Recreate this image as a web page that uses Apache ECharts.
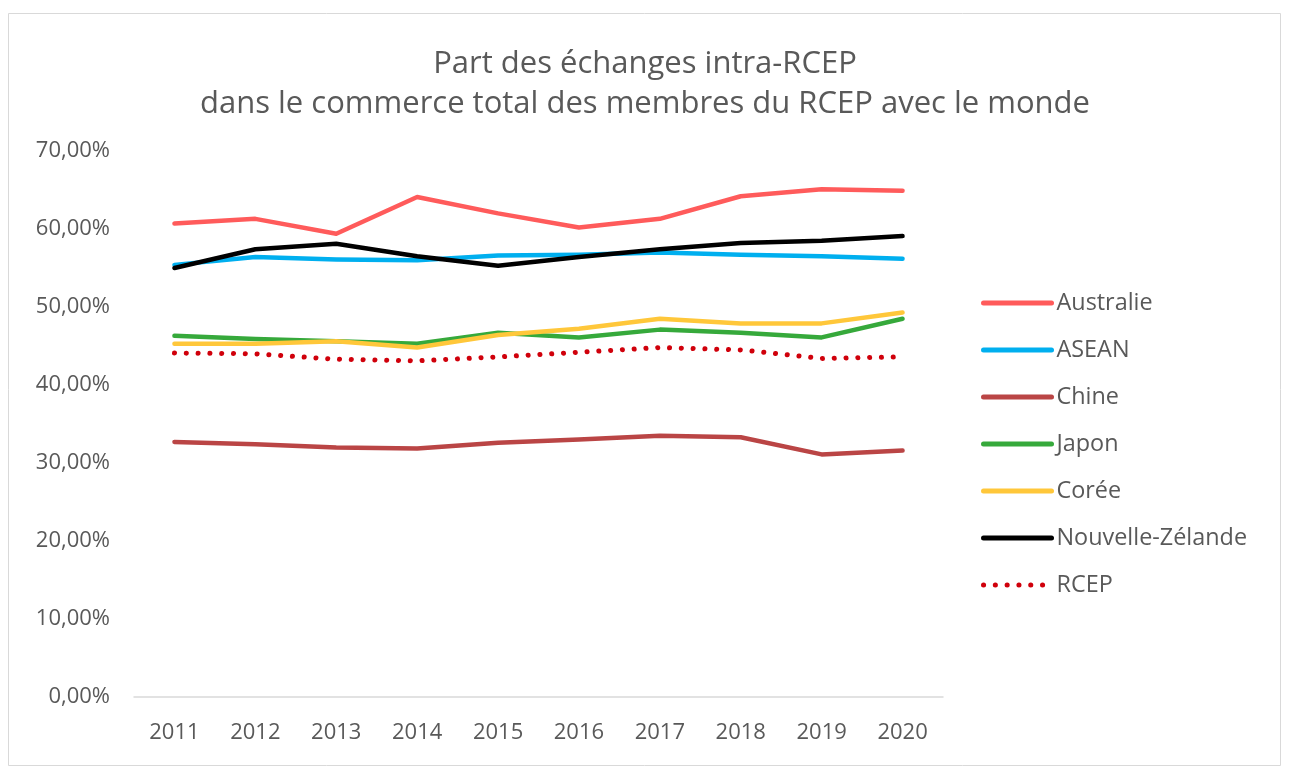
<!DOCTYPE html>
<html>
<head>
<meta charset="utf-8">
<script src="https://cdn.jsdelivr.net/npm/echarts@6/dist/echarts.min.js"></script>
<style>
html,body{margin:0;padding:0;background:#fff;}
#c{width:1290px;height:784px;}
</style>
</head>
<body>
<div id="c"></div>
<script>
const years = ['2011','2012','2013','2014','2015','2016','2017','2018','2019','2020'];
const australie = [60.7, 61.3, 59.4, 64.1, 62.0, 60.2, 61.3, 64.2, 65.1, 64.9];
const asean = [55.4, 56.4, 56.1, 56.0, 56.6, 56.7, 57.0, 56.7, 56.5, 56.2];
const chine = [32.7, 32.4, 32.0, 31.85, 32.6, 33.0, 33.5, 33.3, 31.1, 31.6];
const japon = [46.3, 45.9, 45.6, 45.3, 46.7, 46.1, 47.1, 46.7, 46.1, 48.5];
const coree = [45.3, 45.3, 45.6, 44.8, 46.4, 47.2, 48.5, 47.9, 47.9, 49.3];
const nz = [55.0, 57.4, 58.1, 56.5, 55.3, 56.4, 57.4, 58.2, 58.5, 59.1];
const rcep = [44.1, 44.0, 43.3, 43.1, 43.6, 44.2, 44.8, 44.5, 43.4, 43.6];
const titleText = 'Part des échanges intra-RCEP\ndans le commerce total des membres du RCEP avec le monde';

const FONT = '"Open Sans", "Noto Sans", sans-serif';
const TXT = '#595959';

function mk(name, data, color, dotted) {
  return {
    name: name, type: 'line', data: data, symbol: 'none', smooth: false,
    lineStyle: dotted
      ? {color: color, width: 5, type: [0.1, 11.7], cap: 'round'}
      : {color: color, width: 4.5, cap: 'round', join: 'round'},
    itemStyle: {color: color},
    emphasis: {disabled: true}
  };
}

const chart = echarts.init(document.getElementById('c'), null, {renderer: 'canvas'});
chart.setOption({
  animation: false,
  backgroundColor: '#fff',
  textStyle: {fontFamily: FONT},
  graphic: [{
    type: 'rect', shape: {x: 8.5, y: 13.5, width: 1272, height: 752},
    style: {fill: 'none', stroke: '#d9d9d9', lineWidth: 1}, silent: true
  }],
  title: {
    text: titleText, left: 'center', top: 39,
    textStyle: {fontFamily: FONT, fontSize: 31, fontWeight: 'normal', color: TXT, lineHeight: 40}
  },
  grid: {left: 134, right: 347, top: 151, bottom: 87, containLabel: false},
  xAxis: {
    type: 'category', data: years, boundaryGap: true,
    axisLine: {lineStyle: {color: '#d9d9d9', width: 1.5}},
    axisTick: {show: false},
    axisLabel: {fontFamily: FONT, fontSize: 22, color: TXT, margin: 25}
  },
  yAxis: {
    type: 'value', min: 0, max: 70, interval: 10,
    splitLine: {show: false},
    axisLine: {show: false}, axisTick: {show: false},
    axisLabel: {fontFamily: FONT, fontSize: 22, color: TXT, margin: 24,
      formatter: v => v.toFixed(2).replace('.', ',') + '%'}
  },
  legend: {
    orient: 'vertical', left: 976, top: 286,
    itemWidth: 68, itemHeight: 14, itemGap: 23,
    itemStyle: {opacity: 0},
    lineStyle: {width: 5, cap: 'round'},
    textStyle: {fontFamily: FONT, fontSize: 23.4, color: TXT, lineHeight: 24},
    data: ['Australie','ASEAN','Chine','Japon','Corée','Nouvelle-Zélande','RCEP']
  },
  series: [
    mk('Australie', australie, '#FF5B5B'),
    mk('ASEAN', asean, '#00AFEF'),
    mk('Chine', chine, '#BA4545'),
    mk('Japon', japon, '#36A93B'),
    mk('Corée', coree, '#FFC73A'),
    mk('Nouvelle-Zélande', nz, '#000000'),
    mk('RCEP', rcep, '#D0000B', true)
  ]
});
</script>
</body>
</html>
